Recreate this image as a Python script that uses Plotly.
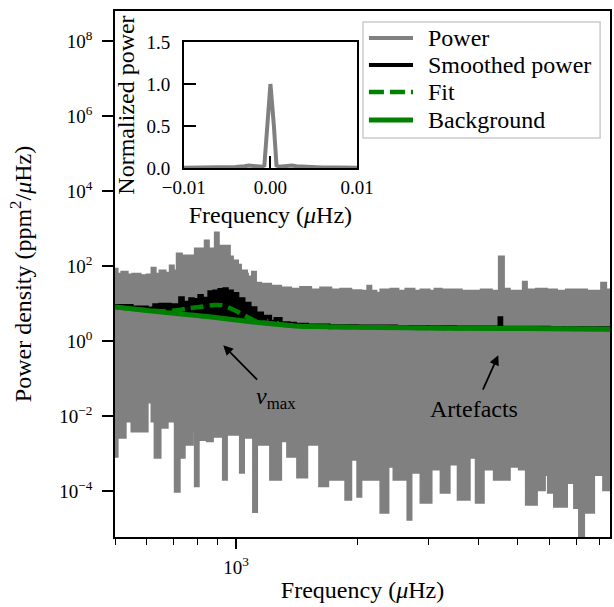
import numpy as np
import plotly.graph_objects as go

# ---- power spectrum envelope (step outline of the raw periodogram) ----
upper_freq = [500, 506, 520, 536, 554, 577, 601, 618, 629, 647, 666, 686, 698, 714, 731,
              792, 824, 838, 853, 888, 903, 962, 979, 1008, 1025, 1061, 1067, 1086, 1098,
              1117, 1150, 1218, 1290, 1366, 1447, 1532, 1623, 1719, 1820, 1927, 2042, 2125,
              2162, 2225, 2290, 2426, 2524, 2643, 2767, 2881, 3017, 3122, 3232, 3423, 3626,
              3840, 4067, 4308, 4511, 4616, 4775, 5175, 5265, 5576, 5905, 6254, 6624, 7015,
              7430, 8099, 8287, 8496]
upper_power = [83, 61, 69, 58, 61, 55, 58, 88, 61, 74, 65, 100, 74, 209, 185,
               284, 250, 464, 284, 759, 341, 174, 136, 106, 74, 61, 51, 42, 69,
               35, 33, 29, 26, 24, 27, 23, 26, 23, 24, 22, 21.5, 29,
               21.5, 19, 23, 24, 21.5, 24, 21.5, 23, 21.5, 24, 23, 23, 21.5,
               21.5, 23, 21.5, 174, 24, 21.5, 37, 23, 24, 23, 21.5, 23, 23,
               21.5, 35, 23, 23]

lower_freq = [500, 506, 512, 530, 551, 601, 618, 629, 647, 674, 694, 706, 722, 743, 778,
              792, 805, 848, 873, 930, 946, 1008, 1025, 1043, 1105, 1124, 1218, 1290, 1343,
              1422, 1498, 1595, 1613, 1689, 1873, 1927, 2006, 2042, 2077, 2264, 2290, 2384,
              2468, 2673, 2720, 2881, 3051, 3232, 3384, 3564, 3796, 3952, 4114, 4383, 4775,
              5058, 5265, 5576, 5837, 5973, 6185, 6624, 6937, 7137, 7303, 7734, 8192, 8496]
lower_power = [8.6e-4, 3.5e-3, 2.75e-3, 7.4e-3, 4.0e-3, 2.4e-2, 7.4e-3, 8.1e-4, 5.1e-3,
               7.4e-3, 2.4e-2, 1.0e-4, 8.1e-4, 1.8e-3, 4.0e-3, 1.4e-4, 2.4e-3, 2.2e-3,
               2.9e-3, 2.1e-4, 3.3e-3, 4.5e-3, 3.2e-4, 2.75e-3, 2.9e-5, 1.8e-3, 2.1e-4,
               2.2e-3, 8.6e-4, 2.4e-4, 1.8e-3, 3.3e-3, 1.4e-4, 2.1e-4, 6.1e-5, 7.1e-4,
               7.4e-5, 8.6e-4, 2.1e-4, 1.8e-3, 2.75e-5, 4.6e-4, 2.1e-4, 1.8e-5, 3.2e-4,
               5.1e-5, 3.9e-4, 9.4e-5, 5.3e-4, 6.1e-5, 8.1e-4, 5.1e-5, 3.9e-4, 2.1e-4,
               4.6e-4, 3.9e-4, 4.5e-5, 1.1e-4, 2.8e-4, 9.4e-5, 4.0e-5, 1.7e-4, 3.7e-5,
               5.0e-6, 2.75e-5, 2.8e-4, 1.1e-4, 1.1e-4]

# ---- smoothed power: comb of p modes around nu_max plus an artefact peak ----
smooth_freq = [500, 550, 600, 615, 626, 635, 647, 658, 670, 684, 698, 712, 726, 737, 747,
               758, 769, 780, 792, 801, 810, 822, 833, 845, 858, 870, 883, 896, 909, 922,
               935, 948, 962, 976, 990, 1007, 1025, 1043, 1061, 1080, 1098, 1117, 1137,
               1160, 1183, 1215, 1253, 1290, 1350, 1400, 1500, 1700, 2000, 2500, 3000,
               3500, 4000, 4500, 4515, 4548, 4560, 5000, 6000, 7000, 8496]
smooth_power = [8.6, 7.9, 7.1, 7.4, 9.1, 7.0, 9.3, 6.8, 9.4, 6.6, 9.0, 6.4, 14, 6.2, 10.5,
                6.0, 13, 5.8, 12.5, 5.7, 16, 5.5, 13.5, 5.3, 20, 5.2, 21, 5.0, 23, 4.9,
                24, 4.7, 21, 4.5, 18, 4.3, 13, 4.1, 10, 3.9, 7.5, 3.7, 5.5,
                3.5, 4.5, 3.3, 3.9, 3.0, 2.9, 2.75, 2.6, 2.5, 2.45, 2.38, 2.34,
                2.32, 2.3, 2.28, 4.1, 4.1, 2.28, 2.26, 2.22, 2.2, 2.17]

# ---- fitted model and background ----
fit_freq = [500, 600, 650, 714, 769, 810, 873, 919, 979, 1055, 1117, 1163, 1250, 1300,
            1400, 1500, 1700, 2000, 3000, 4500, 6000, 8496]
fit_power = [8.1, 6.7, 6.3, 6.7, 7.6, 8.1, 9.1, 9.1, 7.1, 4.7, 3.4, 3.15, 2.85, 2.72,
             2.55, 2.47, 2.40, 2.34, 2.24, 2.19, 2.14, 2.09]

bg_freq = [500, 600, 700, 800, 900, 1000, 1100, 1200, 1300, 1400, 1500, 1700, 2000,
           3000, 4500, 6000, 8496]
bg_power = [8.1, 6.6, 5.5, 4.8, 4.2, 3.65, 3.25, 2.95, 2.72, 2.55, 2.47, 2.40, 2.34,
            2.24, 2.19, 2.14, 2.09]

# ---- spectral window (inset) ----
win_freq = [-0.01, -0.008, -0.006, -0.005, -0.004, -0.003, -0.0025, -0.002, -0.0015,
            -0.001, -0.0007, -0.0004, 0.0, 0.0004, 0.0007, 0.001, 0.0015, 0.002, 0.0025,
            0.003, 0.004, 0.005, 0.006, 0.008, 0.01]
win_power = [0.004, 0.006, 0.005, 0.008, 0.012, 0.02, 0.03, 0.025, 0.02, 0.015, 0.03,
             0.5, 1.0, 0.5, 0.03, 0.015, 0.02, 0.025, 0.03, 0.02, 0.012, 0.008, 0.005,
             0.006, 0.004]

y_tickvals = [1e-4, 1e-2, 1e0, 1e2, 1e4, 1e6, 1e8]
y_ticktext = ["10<sup>\u22124</sup>", "10<sup>\u22122</sup>", "10<sup>0</sup>",
              "10<sup>2</sup>", "10<sup>4</sup>", "10<sup>6</sup>", "10<sup>8</sup>"]
x_minor = [500, 600, 700, 800, 900, 2000, 3000, 4000, 5000, 6000, 7000, 8000]

GRAY = "#808080"
GREEN = "#008000"
FONT = "Liberation Serif"
FS = 24      # labels
TFS = 19     # tick labels

# series styles, shared by the traces and the legend key
styles = [
    ("Power", dict(color=GRAY, width=4)),
    ("Smoothed power", dict(color="black", width=4)),
    ("Fit", dict(color=GREEN, width=4.5, dash="15px,6px")),
    ("Background", dict(color=GREEN, width=5)),
]

fig = go.Figure()

fig.add_trace(go.Scatter(x=upper_freq, y=upper_power, mode="lines", line_shape="hv",
                         line=dict(color=GRAY, width=3), name="Power", showlegend=False))
fig.add_trace(go.Scatter(x=lower_freq, y=lower_power, mode="lines", line_shape="hv",
                         line=dict(color=GRAY, width=3), fill="tonexty",
                         fillcolor=GRAY, showlegend=False, hoverinfo="skip"))
fig.add_trace(go.Scatter(x=smooth_freq, y=smooth_power, mode="lines", line_shape="hv",
                         line=dict(color="black", width=4), name="Smoothed power",
                         showlegend=False))
fig.add_trace(go.Scatter(x=fit_freq, y=fit_power, mode="lines", line_shape="spline",
                         line=dict(color=GREEN, width=4.5, dash="13px,6px"), name="Fit",
                         showlegend=False))
fig.add_trace(go.Scatter(x=bg_freq, y=bg_power, mode="lines", line_shape="spline",
                         line=dict(color=GREEN, width=5), name="Background",
                         showlegend=False))

fig.add_trace(go.Scatter(x=win_freq, y=win_power, mode="lines", xaxis="x2", yaxis="y2",
                         line=dict(color=GRAY, width=4), showlegend=False))

axis_common = dict(showgrid=False, zeroline=False, showline=True, linecolor="black",
                   linewidth=1.6, mirror=True, tickcolor="black", tickwidth=1.5,
                   automargin=False,
                   tickfont=dict(family=FONT, size=TFS, color="black"))

fig.update_layout(
    width=614, height=607, autosize=False,
    margin=dict(l=115, r=4, t=11, b=70, autoexpand=False),
    paper_bgcolor="white", plot_bgcolor="white",
    font=dict(family=FONT, size=FS, color="black"),
    showlegend=False,
    xaxis=dict(type="log", range=[np.log10(500), np.log10(8496)],
               tickmode="array", tickvals=[1000], ticktext=["10<sup>3</sup>"],
               ticks="outside", ticklen=10, ticklabelstandoff=2,
               minor=dict(tickmode="array", tickvals=x_minor, ticks="outside",
                          ticklen=6, tickwidth=1.3, tickcolor="black"),
               title=dict(text="Frequency (<i>\u03bc</i>Hz)",
                          font=dict(family=FONT, size=FS), standoff=5),
               **axis_common),
    yaxis=dict(type="log", range=[-5.22, 8.8], tickmode="array",
               tickvals=y_tickvals, ticktext=y_ticktext, ticks="outside", ticklen=11,
               ticklabelstandoff=6,
               title=dict(text="Power density (ppm<sup>2</sup>/<i>\u03bc</i>Hz)",
                          font=dict(family=FONT, size=FS), standoff=21),
               **axis_common),
    xaxis2=dict(domain=[0.139, 0.489], anchor="y2", range=[-0.01, 0.01],
                tickmode="array", tickvals=[-0.01, 0.0, 0.01],
                ticktext=["\u22120.01", "0.00", "0.01"], ticks="inside", ticklen=12,
                ticklabelstandoff=1,
                title=dict(text="Frequency (<i>\u03bc</i>Hz)",
                           font=dict(family=FONT, size=FS), standoff=10),
                **axis_common),
    yaxis2=dict(domain=[0.7015, 0.941], anchor="x2", range=[0, 1.5],
                tickmode="array", tickvals=[0, 0.5, 1.0, 1.5],
                ticktext=["0.0", "0.5", "1.0", "1.5"], ticks="inside", ticklen=12,
                ticklabelstandoff=8,
                title=dict(text="Normalized power", font=dict(family=FONT, size=FS),
                           standoff=5),
                **axis_common),
)

# legend key drawn in paper coordinates (box, sample lines, labels)
box_x0, box_x1, box_y0, box_y1 = 0.501, 0.980, 0.7586, 0.979
key_x0, key_x1, text_x = 0.513, 0.602, 0.628
key_rows = [0.9487, 0.8973, 0.8460, 0.7928]
fig.add_shape(type="rect", xref="paper", yref="paper", x0=box_x0, x1=box_x1,
              y0=box_y0, y1=box_y1, line=dict(color="#cccccc", width=1.5),
              fillcolor="rgba(255,255,255,0.85)", layer="above")
for (label, st), yk in zip(styles, key_rows):
    fig.add_shape(type="line", xref="paper", yref="paper", x0=key_x0, x1=key_x1,
                  y0=yk, y1=yk, line=st, layer="above")
    fig.add_annotation(x=text_x, y=yk, xref="paper", yref="paper", text=label,
                       showarrow=False, xanchor="left", yanchor="middle",
                       font=dict(family=FONT, size=FS))

# annotations: nu_max and artefacts (log axes take log10 positions)
lg = np.log10
fig.add_annotation(x=lg(929), y=lg(0.78), ax=lg(1137), ay=lg(0.0857), xref="x", yref="y",
                   axref="x", ayref="y", text="", showarrow=True, arrowhead=2,
                   arrowsize=1.1, arrowwidth=1.8, arrowcolor="black")
fig.add_annotation(x=lg(1253), y=lg(0.030), xref="x", yref="y",
                   text="<i>\u03bd</i><sub>max</sub>", showarrow=False,
                   font=dict(family=FONT, size=FS))
fig.add_annotation(x=lg(4483), y=lg(0.42), ax=lg(4090), ay=lg(0.0464), xref="x", yref="y",
                   axref="x", ayref="y", text="", showarrow=True, arrowhead=2,
                   arrowsize=1.1, arrowwidth=1.8, arrowcolor="black")
fig.add_annotation(x=lg(3906), y=lg(0.0154), xref="x", yref="y", text="Artefacts",
                   showarrow=False, font=dict(family=FONT, size=FS))

fig.write_html("out.html")
